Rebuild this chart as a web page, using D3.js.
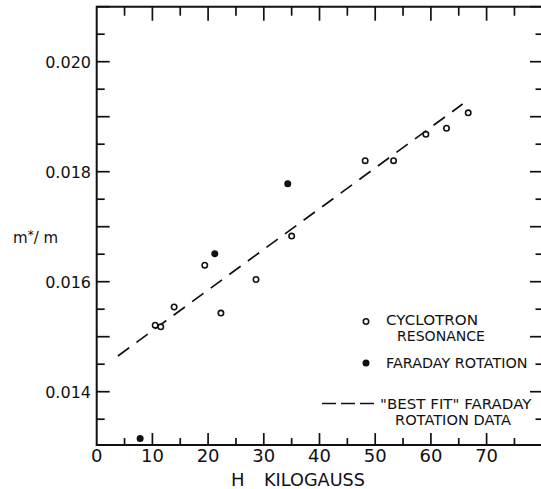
<html>
    <head>
        <style>
body {
    margin: 0;
    background: #fff;
}
.chart {
    display: block;
    font-family: "DejaVu Sans", sans-serif;
}
.chart text {
    fill: #111;
}
.frame, .ticks line {
    stroke: #111;
    fill: none;
}
        </style>
    </head>
    <body>
<script src="https://d3js.org/d3.v7.min.js"></script>
<script>

// cyclotron resonance (open circles)
const cyclotronH = [10.5, 11.5, 13.9, 19.4, 22.3, 28.6, 35.0, 48.2, 53.3, 59.1, 62.8, 66.7];
const cyclotronM = [0.01521, 0.01518, 0.01554, 0.01630, 0.01543, 0.01604, 0.01683, 0.01820, 0.01820, 0.01868, 0.01879, 0.01907];

// faraday rotation (filled circles)
const faradayH = [7.8, 21.2, 34.3];
const faradayM = [0.01315, 0.01651, 0.01778];

// "best fit" line through the faraday data
const fitH = [3.8, 65.7];
const fitM = [0.01465, 0.01923];

const xTickLabels = [0, 10, 20, 30, 40, 50, 60, 70];
const xTicks = d3.range(5, 80, 5);
const yTickLabels = [0.014, 0.016, 0.018, 0.020];
const yTicks = d3.range(0.0135, 0.02101, 0.0005);

const
    width = 541,
    height = 489,
    x0 = 96.7, x1 = 542.3,
    yBottomValue = 0.01303;

var svg = d3.select('body')
    .append('svg')
    .classed('chart', true)
    .attr('width', width)
    .attr('height', height);

const x = d3.scaleLinear().domain([0, 80]).range([x0, x1]);
const y = d3.scaleLinear().domain([0.013, 0.021]).range([446.7, 6.7]);

const yb = y(yBottomValue), yt = y(0.021);

// frame: left, top and bottom (right side falls at the page edge)
svg.append('path')
    .classed('frame', true)
    .attr('stroke-width', 2)
    .attr('d', `M${width},${yt}H${x(0)}V${yb}H${width}`);

const isMajorX = d => d % 10 === 0;
const isMajorY = d => Math.abs(Math.round(d * 1000) - d * 1000) < 1e-6;

var ticks = svg.append('g').classed('ticks', true).attr('stroke-width', 1.7);

// top ticks point down, bottom ticks point up
ticks.selectAll('.tt').data(xTicks).enter().append('line')
    .attr('x1', d => x(d)).attr('x2', d => x(d))
    .attr('y1', yt).attr('y2', d => yt + (isMajorX(d) ? 14 : 9));
ticks.selectAll('.tb').data(xTicks).enter().append('line')
    .attr('x1', d => x(d)).attr('x2', d => x(d))
    .attr('y1', yb).attr('y2', d => yb - (isMajorX(d) ? 12 : 7));

// left ticks point right, right ticks point left from the edge
ticks.selectAll('.tl').data(yTicks).enter().append('line')
    .attr('y1', d => y(d)).attr('y2', d => y(d))
    .attr('x1', x(0)).attr('x2', d => x(0) + (isMajorY(d) ? 13 : 8));
ticks.selectAll('.tr').data(yTicks).enter().append('line')
    .attr('y1', d => y(d)).attr('y2', d => y(d))
    .attr('x1', width).attr('x2', d => width - (isMajorY(d) ? 11 : 5.5));

svg.append('g').selectAll('text')
    .data(xTickLabels)
  .enter().append('text')
    .attr('x', d => x(d))
    .attr('y', 461.7)
    .attr('text-anchor', 'middle')
    .attr('font-size', 18)
    .text(d => d);

svg.append('g').selectAll('text')
    .data(yTickLabels)
  .enter().append('text')
    .attr('x', 91)
    .attr('y', d => y(d) + 5.8)
    .attr('text-anchor', 'end')
    .attr('font-size', 16)
    .text(d => d.toFixed(3));

// axis titles
svg.append('text')
    .attr('x', 231).attr('y', 486)
    .attr('font-size', 18)
    .text('H');
svg.append('text')
    .attr('x', 264).attr('y', 486)
    .attr('font-size', 18)
    .attr('textLength', 101).attr('lengthAdjust', 'spacingAndGlyphs')
    .text('KILOGAUSS');

var ylab = svg.append('text')
    .attr('x', 13).attr('y', 243)
    .attr('font-size', 15);
ylab.append('tspan').text('m');
ylab.append('tspan').attr('dy', -4).attr('font-size', 12).text('*');
ylab.append('tspan').attr('dy', 4).text('/ m');

// fit line
svg.append('line')
    .attr('x1', x(fitH[0])).attr('y1', y(fitM[0]))
    .attr('x2', x(fitH[1])).attr('y2', y(fitM[1]))
    .attr('stroke', '#111')
    .attr('stroke-width', 1.7)
    .attr('stroke-dasharray', '14,9');

// points
svg.append('g').selectAll('circle')
    .data(d3.zip(cyclotronH, cyclotronM))
  .enter().append('circle')
    .attr('cx', d => x(d[0])).attr('cy', d => y(d[1]))
    .attr('r', 2.7)
    .attr('fill', '#fff')
    .attr('stroke', '#111')
    .attr('stroke-width', 1.6);

svg.append('g').selectAll('circle')
    .data(d3.zip(faradayH, faradayM))
  .enter().append('circle')
    .attr('cx', d => x(d[0])).attr('cy', d => y(d[1]))
    .attr('r', 3.5)
    .attr('fill', '#111');

// legend
const legendLines = [
    {text: 'CYCLOTRON', x: 386, y: 325, w: 92},
    {text: 'RESONANCE', x: 397, y: 341, w: 88},
    {text: 'FARADAY ROTATION', x: 386, y: 368, w: 141.5},
    {text: '"BEST FIT" FARADAY', x: 380, y: 408.5, w: 151.5},
    {text: 'ROTATION DATA', x: 395, y: 425, w: 116}
];

var legend = svg.append('g');
legend.selectAll('text')
    .data(legendLines)
  .enter().append('text')
    .attr('x', d => d.x).attr('y', d => d.y)
    .attr('font-size', 13.5)
    .attr('textLength', d => d.w).attr('lengthAdjust', 'spacingAndGlyphs')
    .text(d => d.text);

legend.append('circle')
    .attr('cx', 366).attr('cy', 321.5).attr('r', 2.7)
    .attr('fill', '#fff').attr('stroke', '#111').attr('stroke-width', 1.6);
legend.append('circle')
    .attr('cx', 366).attr('cy', 363).attr('r', 3.5)
    .attr('fill', '#111');
legend.append('line')
    .attr('x1', 322).attr('x2', 374)
    .attr('y1', 403.5).attr('y2', 403.5)
    .attr('stroke', '#111').attr('stroke-width', 1.6)
    .attr('stroke-dasharray', '14,5');

</script>
    </body>
</html>
